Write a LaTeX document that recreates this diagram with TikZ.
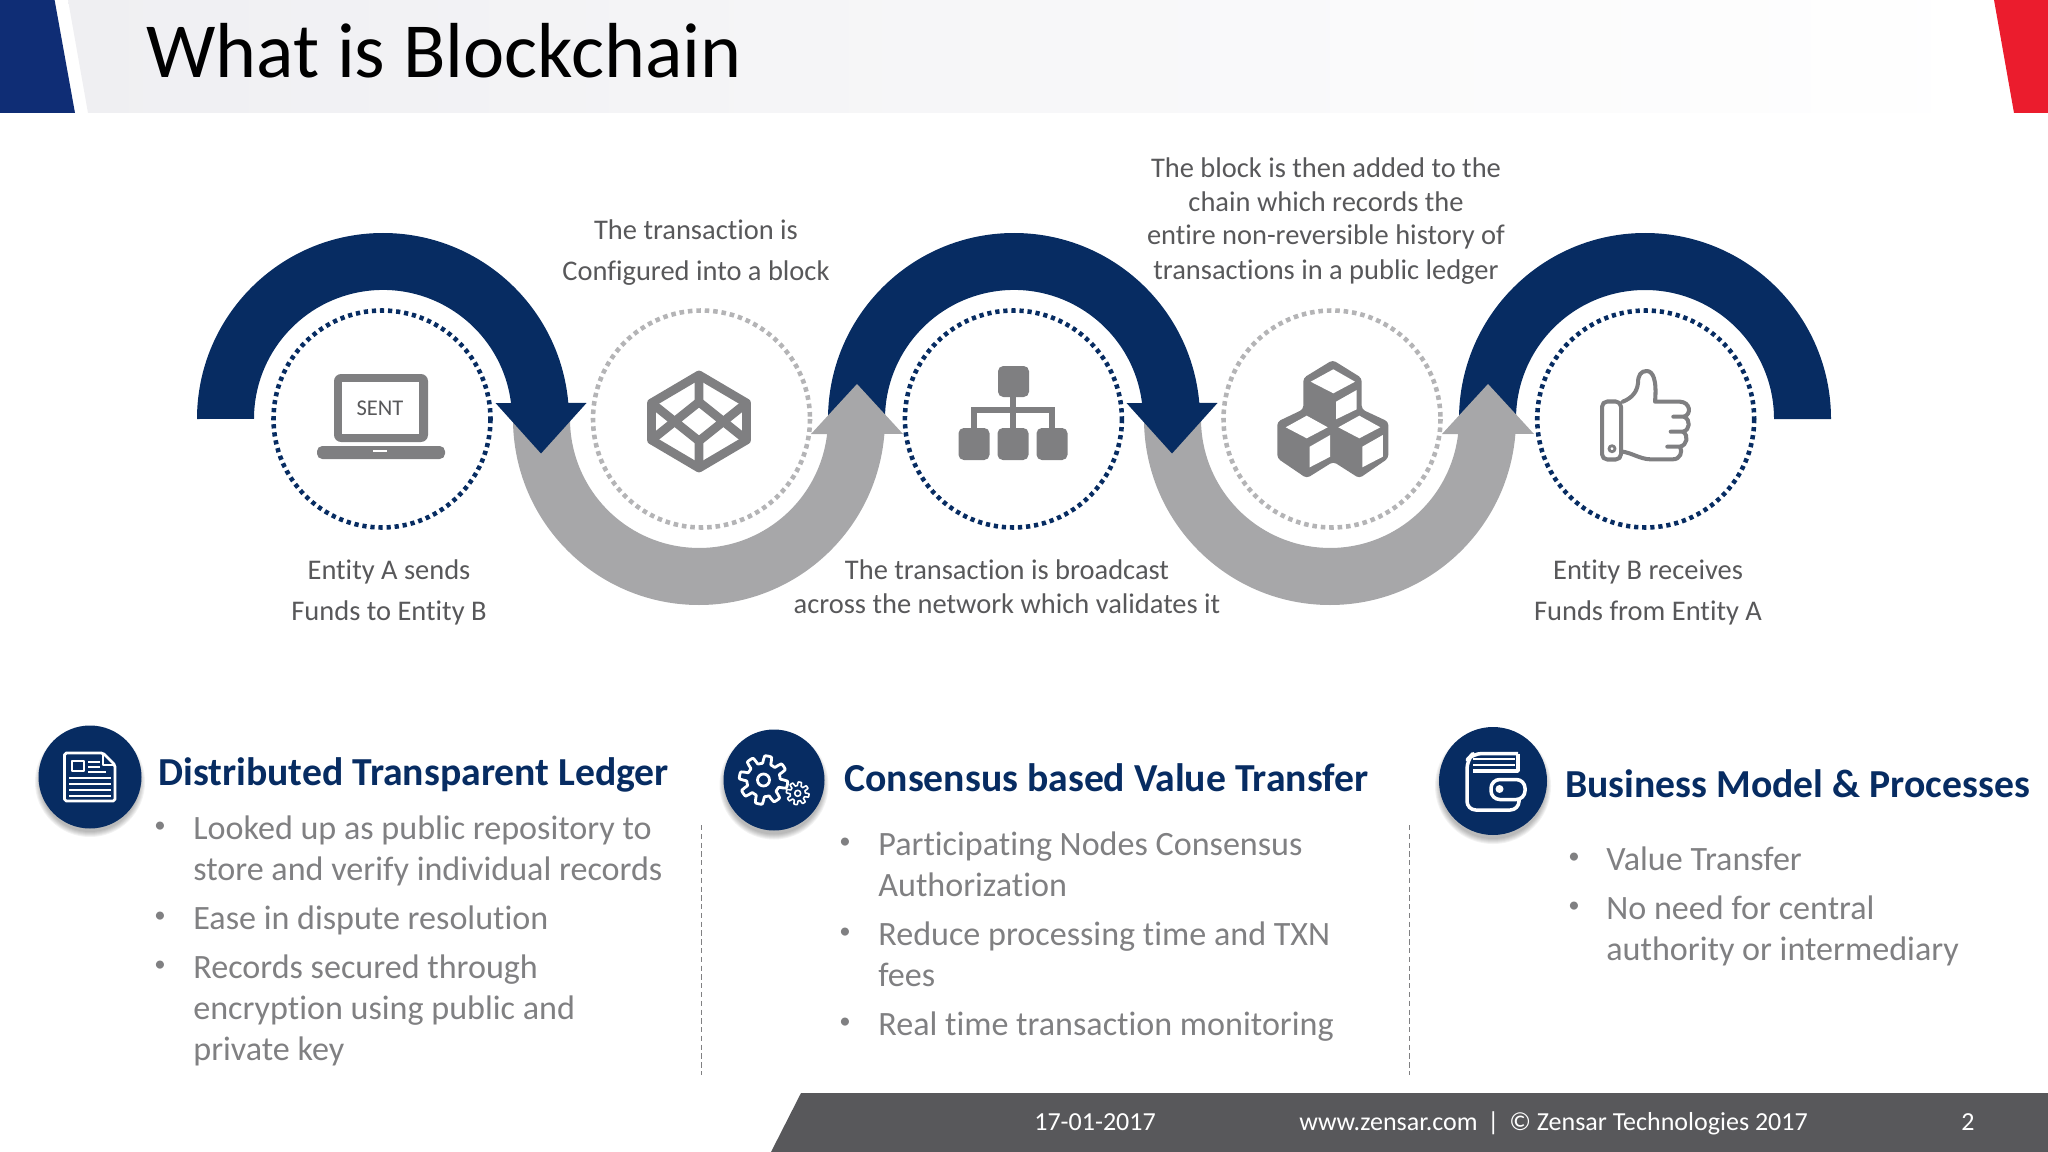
\documentclass[tikz,border=0pt]{standalone}
\usepackage{fontspec}
\setmainfont[Ligatures=NoCommon]{Carlito}
\definecolor{bandblue}{HTML}{072C62}
\definecolor{bandgrey}{HTML}{A7A7A9}
\definecolor{icongrey}{HTML}{7F7F81}
\definecolor{dotgrey}{HTML}{B4B4B6}
\definecolor{textgrey}{HTML}{58585A}
\definecolor{pointgrey}{HTML}{808082}
\definecolor{headblue}{HTML}{0F2D75}
\definecolor{headred}{HTML}{EB1C2D}
\definecolor{headpale}{HTML}{EFEFF2}
\definecolor{footgrey}{HTML}{58585B}
\tikzset{
  steplabel/.style={inner sep=0pt,anchor=base,text=textgrey,font=\fontsize{16.2}{19}\selectfont},
  pointtitle/.style={inner sep=0pt,anchor=base west,text=bandblue,font=\fontsize{22.6}{27}\selectfont\bfseries},
  pointtext/.style={inner sep=0pt,anchor=base west,text=pointgrey,font=\fontsize{19.4}{23}\selectfont},
  pointdot/.style={inner sep=0pt,anchor=base,text=pointgrey,font=\fontsize{13}{15}\selectfont},
  foottext/.style={inner sep=0pt,anchor=base west,text=white,font=\fontsize{14.8}{17}\selectfont},
  iconline/.style={draw=white,line width=1.6pt,line join=round},
  thumbline/.style={draw=icongrey,line width=2.3pt,line join=round,line cap=round},
  navyring/.style={draw=bandblue,line width=2.6pt,dash pattern=on 2.4pt off 2.2pt},
  greyring/.style={draw=dotgrey,line width=2.6pt,dash pattern=on 2.6pt off 2.2pt},
}
\newcommand{\bluearc}[1]{\fill[bandblue] (#1-186,419) arc (180:355:186) -- (#1+203.5,403) -- (#1+158,453.5) -- (#1+112.5,403) -- (#1+128,403) arc (352.9:180:129) -- cycle;}
\newcommand{\greyarc}[1]{\fill[bandgrey] (#1-186,419) arc (180:4.6:186) -- (#1+204,434) -- (#1+158,384) -- (#1+112,434) -- (#1+128.1,434) arc (6.7:180:129) -- cycle;}
\newcommand{\softshadow}[3]{\foreach \s in {1,...,6}{\fill[black,opacity=.05] (#1,#2+5) circle (#3+\s-2);}}
\begin{document}
\begin{tikzpicture}[x=1pt,y=1pt,xscale=.56905,yscale=-.56905]
\useasboundingbox (0,0) rectangle (2048,1152);

% header
\shade[left color=headpale,middle color=headpale!85!white,right color=white] (68,0) -- (88,113) -- (1990,113) -- (1990,0) -- cycle;
\fill[headblue] (0,0) -- (54.6,0) -- (75,113) -- (0,113) -- cycle;
\fill[headred] (1994,0) -- (2048,0) -- (2048,113) -- (2014,113) -- cycle;
\node[inner sep=0pt,anchor=base west,font=\fontsize{44.4}{52}\selectfont] (title) at (146,77.5) {What is Blockchain};

% bands, back to front
\fill[bandblue] (1459,419) arc (180:360:186) -- (1774,419) arc (360:180:129) -- cycle;
\greyarc{1330}
\bluearc{1014}
\greyarc{699}
\bluearc{383}

% dotted rings
\draw[navyring] (382,419) circle (108.5);
\draw[greyring] (701.5,419) circle (108.5);
\draw[navyring] (1013.4,419) circle (108.5);
\draw[greyring] (1332,419) circle (108.5);
\draw[navyring] (1645.7,419) circle (108.5);

% laptop
\fill[icongrey,rounded corners=4pt] (334,374) rectangle (428,442);
\fill[white] (341.5,382) rectangle (419,434);
\node[inner sep=0pt,text=textgrey,font=\fontsize{12.8}{15}\selectfont] (sent) at (380,408) {SENT};
\fill[icongrey,rounded corners=3pt] (317,446) -- (445,446) -- (445,459) -- (317,459) -- cycle;
\fill[white] (373,450) rectangle (387,452);

% block
\draw[icongrey,line width=5pt,line join=round] (699,375) -- (746.5,403) -- (746.5,440) -- (699,468) -- (651.5,440) -- (651.5,403) -- cycle;
\draw[icongrey,line width=5pt] (651.5,403) -- (699,441) -- (746.5,403) (651.5,440) -- (699,402) -- (746.5,440) (699,375) -- (699,402) (699,441) -- (699,468);

% network
\draw[icongrey,line width=3.2pt] (1013,380) -- (1013,440) (974,440) -- (974,410) -- (1052,410) -- (1052,440);
\foreach \x in {974,1013,1052}
{\fill[icongrey,rounded corners=3pt] (\x-15.5,428) rectangle (\x+15.5,460);}
\fill[icongrey,rounded corners=3pt] (998,366) rectangle (1029,397);

% cubes
\fill[icongrey,rounded corners=2pt] (1332.7,360) -- (1361.7,378) -- (1361.7,409.3) -- (1388.3,421.7) -- (1388.3,458.3) -- (1359.3,478.3) -- (1333.3,461.7) -- (1306.7,478.3) -- (1277.3,458.3) -- (1277.3,421.7) -- (1303.3,409.3) -- (1303.3,378) -- cycle;
\fill[white] (1333.3,369.3) -- (1355,381.7) -- (1333.3,393.3) -- (1310.7,381.7) -- cycle;
\fill[white] (1336,401.7) -- (1356.7,390) -- (1356.7,409.3) -- (1336,419.3) -- cycle;
\foreach \x in {1306.7,1359.3}
{\fill[white] (\x,415.7) -- (\x+21,427.3) -- (\x,438.3) -- (\x-21,427.3) -- cycle;
\fill[white] (\x+3,446.7) -- (\x+23.5,435) -- (\x+23.5,456.7) -- (\x+3,467.3) -- cycle;}

% thumb
\draw[thumbline,rounded corners=3pt] (1602,401.5) rectangle (1621,459.5);
\draw[thumbline,line width=1.6pt] (1612,448.7) circle (3);
\draw[thumbline] (1622.7,401.7) .. controls (1632,398) and (1637,392) .. (1638,383) .. controls (1638,375) and (1641,371) .. (1646.7,371) .. controls (1653,371) and (1657,380) .. (1655,401.7) -- (1680,401.7) .. controls (1690,402) and (1692,414) .. (1684,416.7) -- (1673.3,416.7);
\draw[thumbline] (1684,416.7) .. controls (1691,420) and (1690,430) .. (1683,431.7) -- (1670.7,431.7);
\draw[thumbline] (1683,431.7) .. controls (1689,436) and (1687,445) .. (1680,446.7) -- (1667.3,446.7);
\draw[thumbline] (1680,446.7) .. controls (1683,452) and (1680,459.3) .. (1673,459.3) -- (1650,459.3) .. controls (1640,459) and (1632,453) .. (1622.7,451.7);

% step labels
\foreach \n/\x/\y/\t in {a/696/239/{The transaction is},b/696/280/{Configured into a block},
  c/389/579/{Entity A sends},d/389/620/{Funds to Entity B},
  e/1007/579/{The transaction is broadcast},f/1007/613/{across the network which validates it},
  g/1326/177.5/{The block is then added to the},h/1326/211/{chain which records the},
  i/1326/245/{entire non-reversible history of},j/1326/279/{transactions in a public ledger},
  k/1648/579/{Entity B receives},l/1648/620/{Funds from Entity A}}
{\node[steplabel] (step\n) at (\x,\y) {\t};}

% round badges
\softshadow{90}{777}{51}
\softshadow{774}{780}{50.5}
\softshadow{1493}{781}{54}
\fill[bandblue] (90,777) circle (51.5);
\fill[bandblue] (774,780) circle (50.5);
\fill[bandblue] (1493,781) circle (54);

% page icon
\draw[iconline,rounded corners=1pt] (64.5,753) -- (103,753) -- (115,765) -- (115,801) -- (64.5,801) -- cycle;
\draw[iconline,line width=1pt] (103,753) -- (103,765) -- (115,765);
\draw[iconline,line width=1.2pt] (72,761) rectangle (84,771);
\draw[iconline,line width=1pt] (88,762) -- (100,762) (88,767) -- (100,767) (88,772) -- (106,772);
\foreach \y in {778,784,790,796}
{\draw[iconline,line width=1pt] (69,\y) -- (110.5,\y);}

% gears
\foreach \gx/\gy/\gr/\ga/\gh/\gw in {763.5/780/20.5/3.8/6/1.6,797.7/793.3/9.5/1.9/3/.9}
{\draw[iconline,line width=\gw pt,shift={(\gx,\gy)}] plot[domain=0:360,samples=145] (\x:{\gr+\ga*max(-1,min(1,2.5*sin(8*\x)))}) -- cycle;
\draw[iconline,line width=\gw pt] (\gx,\gy) circle (\gh);}

% wallet
\draw[iconline,line width=2pt,rounded corners=5pt] (1518,753.5) -- (1473,753.5) -- (1467,760) -- (1467,810) -- (1519,810) -- (1519,800);
\draw[iconline,line width=2pt] (1518,753.5) -- (1518,771) -- (1473,771);
\draw[iconline,line width=1.2pt] (1473,759) -- (1515,759) (1473,765) -- (1515,765);
\draw[iconline,line width=2pt,fill=bandblue,rounded corners=5pt] (1491,779.5) rectangle (1525,799.5);
\fill[white] (1499.5,789) circle (4);

% point lists
\node[pointtitle] (titlea) at (158,785) {Distributed Transparent Ledger};
\node[pointtitle] (titleb) at (844,791) {Consensus based Value Transfer};
\node[pointtitle] (titlec) at (1565,797) {Business Model \& Processes};
\foreach \n/\x/\y/\t in {a/193/839.5/{Looked up as public repository to},b/193/880.5/{store and verify individual records},
  c/193/929.5/{Ease in dispute resolution},d/193/978.5/{Records secured through},
  e/193/1019.5/{encryption using public and},f/193/1060.5/{private key},
  g/878/855.5/{Participating Nodes Consensus},h/878/896.5/{Authorization},
  i/878/945.5/{Reduce processing time and TXN},j/878/986.5/{fees},
  k/878/1035.5/{Real time transaction monitoring},
  l/1606/870.5/{Value Transfer},m/1606/919.5/{No need for central},n/1606/960.5/{authority or intermediary}}
{\node[pointtext] (point\n) at (\x,\y) {\t};}
\foreach \n/\x/\y in {a/160/832,b/160/922,c/160/971,d/845/848,e/845/938,f/845/1028,g/1574/863,h/1574/912}
{\node[pointdot] (dot\n) at (\x,\y) {•};}
\draw[pointgrey,line width=.5pt,densely dashed] (701,825) -- (701,1075);
\draw[pointgrey,line width=.5pt,densely dashed] (1409,825) -- (1409,1075);

% footer
\fill[footgrey] (801,1093) -- (2048,1093) -- (2048,1152) -- (771,1152) -- cycle;
\node[foottext] (footdate) at (1034,1130) {17-01-2017};
\node[foottext] (footweb) at (1299,1130) {www.zensar.com\hspace{.38em}|\hspace{.38em}© Zensar Technologies 2017};
\node[foottext] (footpage) at (1961,1130) {2};

\end{tikzpicture}
\end{document}
